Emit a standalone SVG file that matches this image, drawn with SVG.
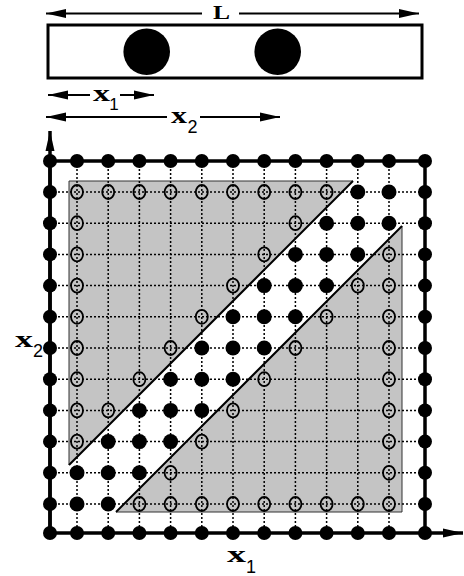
<svg xmlns="http://www.w3.org/2000/svg" width="464" height="576" viewBox="0 0 464 576">
<style>
.mono{font-family:"Liberation Serif","DejaVu Serif",serif;font-weight:bold;fill:#000}
.sub{font-family:"Liberation Sans","DejaVu Sans",sans-serif;fill:#000}
.ln{stroke:#000;stroke-width:2;fill:none}
.dot{fill:#000}
.bd{fill:#000}
.op{fill:none;stroke:#000;stroke-width:1.8}
.grid{stroke:#000;stroke-width:1.5;stroke-dasharray:2 2;fill:none}
.tri{fill:#c4c4c4;stroke:#333;stroke-width:1}
.diag{stroke:#000;stroke-width:2;fill:none}
</style>
<defs>
<marker id="ah" viewBox="0 0 20 10" refX="20" refY="5" markerWidth="20" markerHeight="10" markerUnits="userSpaceOnUse" orient="auto-start-reverse">
<path d="M0,0.5 L20,5 L0,9.5 Z" fill="#000"/>
</marker>
</defs>

<g id="bar">
<rect x="48" y="25" width="374" height="53" fill="#fff" stroke="#000" stroke-width="3"/>
<circle cx="146.7" cy="51.7" r="23.3" fill="#000"/>
<circle cx="277.7" cy="51.7" r="23.3" fill="#000"/>
</g>

<g id="dimensions">
<line class="ln" x1="202" y1="13.5" x2="46" y2="13.5" marker-end="url(#ah)"/>
<line class="ln" x1="239" y1="13.5" x2="419" y2="13.5" marker-end="url(#ah)"/>
<text class="mono" x="213" y="19" font-size="18" textLength="17" lengthAdjust="spacingAndGlyphs">L</text>
<line class="ln" x1="90" y1="95" x2="48" y2="95" marker-end="url(#ah)"/>
<line class="ln" x1="120" y1="95" x2="154" y2="95" marker-end="url(#ah)"/>
<text class="mono" x="93" y="101" font-size="24" textLength="17" lengthAdjust="spacingAndGlyphs">x</text>
<text class="sub" x="114" y="110" font-size="17" text-anchor="middle">1</text>
<line class="ln" x1="167" y1="117" x2="46" y2="117" marker-end="url(#ah)"/>
<line class="ln" x1="200" y1="117" x2="280" y2="117" marker-end="url(#ah)"/>
<text class="mono" x="171" y="123" font-size="24" textLength="16" lengthAdjust="spacingAndGlyphs">x</text>
<text class="sub" x="192.5" y="133" font-size="18" text-anchor="middle">2</text>
</g>

<g id="regions">
<polygon class="tri" points="69,181 353,181 69,465"/>
<polygon class="tri" points="116,512 402,226 402,512"/>
</g>

<g id="grid">
<path class="grid" d="M77,161V533M108.2,161V533M139.4,161V533M170.6,161V533M201.8,161V533M233,161V533M264.2,161V533M295.4,161V533M326.6,161V533M357.8,161V533M389,161V533"/>
<path class="grid" d="M50,504H425M50,472.8H425M50,441.6H425M50,410.4H425M50,379.2H425M50,348H425M50,316.8H425M50,285.6H425M50,254.4H425M50,223.2H425M50,192H425"/>
</g>

<g id="boundaries">
<line class="diag" x1="353" y1="181" x2="69" y2="465"/>
<line class="diag" x1="116" y1="512" x2="402" y2="226"/>
</g>

<g id="axes">
<path d="M50,533V161H425V533" fill="none" stroke="#000" stroke-width="3.5"/>
<line x1="50" y1="533" x2="50" y2="131" stroke="#000" stroke-width="3.5" marker-end="url(#ah)"/>
<line x1="50" y1="533" x2="463" y2="533" stroke="#000" stroke-width="3.5" marker-end="url(#ah)"/>
<text class="mono" x="15" y="347" font-size="24" textLength="18" lengthAdjust="spacingAndGlyphs">x</text>
<text class="sub" x="38" y="357" font-size="18" text-anchor="middle">2</text>
<text class="mono" x="227" y="562" font-size="24" textLength="19" lengthAdjust="spacingAndGlyphs">x</text>
<text class="sub" x="251" y="573" font-size="18" text-anchor="middle">1</text>
</g>

<g id="border-points">
<circle class="bd" cx="50" cy="161" r="7"/><circle class="bd" cx="77" cy="161" r="7"/><circle class="bd" cx="108.2" cy="161" r="7"/><circle class="bd" cx="139.4" cy="161" r="7"/><circle class="bd" cx="170.6" cy="161" r="7"/><circle class="bd" cx="201.8" cy="161" r="7"/><circle class="bd" cx="233" cy="161" r="7"/><circle class="bd" cx="264.2" cy="161" r="7"/><circle class="bd" cx="295.4" cy="161" r="7"/><circle class="bd" cx="326.6" cy="161" r="7"/><circle class="bd" cx="357.8" cy="161" r="7"/><circle class="bd" cx="389" cy="161" r="7"/><circle class="bd" cx="425" cy="161" r="7"/>
<circle class="bd" cx="50" cy="533" r="7"/><circle class="bd" cx="77" cy="533" r="7"/><circle class="bd" cx="108.2" cy="533" r="7"/><circle class="bd" cx="139.4" cy="533" r="7"/><circle class="bd" cx="170.6" cy="533" r="7"/><circle class="bd" cx="201.8" cy="533" r="7"/><circle class="bd" cx="233" cy="533" r="7"/><circle class="bd" cx="264.2" cy="533" r="7"/><circle class="bd" cx="295.4" cy="533" r="7"/><circle class="bd" cx="326.6" cy="533" r="7"/><circle class="bd" cx="357.8" cy="533" r="7"/><circle class="bd" cx="389" cy="533" r="7"/><circle class="bd" cx="425" cy="533" r="7"/>
<circle class="bd" cx="50" cy="504" r="7"/><circle class="bd" cx="50" cy="472.8" r="7"/><circle class="bd" cx="50" cy="441.6" r="7"/><circle class="bd" cx="50" cy="410.4" r="7"/><circle class="bd" cx="50" cy="379.2" r="7"/><circle class="bd" cx="50" cy="348" r="7"/><circle class="bd" cx="50" cy="316.8" r="7"/><circle class="bd" cx="50" cy="285.6" r="7"/><circle class="bd" cx="50" cy="254.4" r="7"/><circle class="bd" cx="50" cy="223.2" r="7"/><circle class="bd" cx="50" cy="192" r="7"/>
<circle class="bd" cx="425" cy="504" r="7"/><circle class="bd" cx="425" cy="472.8" r="7"/><circle class="bd" cx="425" cy="441.6" r="7"/><circle class="bd" cx="425" cy="410.4" r="7"/><circle class="bd" cx="425" cy="379.2" r="7"/><circle class="bd" cx="425" cy="348" r="7"/><circle class="bd" cx="425" cy="316.8" r="7"/><circle class="bd" cx="425" cy="285.6" r="7"/><circle class="bd" cx="425" cy="254.4" r="7"/><circle class="bd" cx="425" cy="223.2" r="7"/><circle class="bd" cx="425" cy="192" r="7"/>
</g>

<g id="band-points">
<circle class="dot" cx="77" cy="504" r="7.5"/><circle class="dot" cx="108.2" cy="472.8" r="7.5"/><circle class="dot" cx="139.4" cy="441.6" r="7.5"/><circle class="dot" cx="170.6" cy="410.4" r="7.5"/><circle class="dot" cx="201.8" cy="379.2" r="7.5"/><circle class="dot" cx="233" cy="348" r="7.5"/><circle class="dot" cx="264.2" cy="316.8" r="7.5"/><circle class="dot" cx="295.4" cy="285.6" r="7.5"/><circle class="dot" cx="326.6" cy="254.4" r="7.5"/><circle class="dot" cx="357.8" cy="223.2" r="7.5"/><circle class="dot" cx="389" cy="192" r="7.5"/>
<circle class="dot" cx="108.2" cy="504" r="7.5"/><circle class="dot" cx="139.4" cy="472.8" r="7.5"/><circle class="dot" cx="170.6" cy="441.6" r="7.5"/><circle class="dot" cx="201.8" cy="410.4" r="7.5"/><circle class="dot" cx="233" cy="379.2" r="7.5"/><circle class="dot" cx="264.2" cy="348" r="7.5"/><circle class="dot" cx="295.4" cy="316.8" r="7.5"/><circle class="dot" cx="326.6" cy="285.6" r="7.5"/><circle class="dot" cx="357.8" cy="254.4" r="7.5"/><circle class="dot" cx="389" cy="223.2" r="7.5"/>
<circle class="dot" cx="77" cy="472.8" r="7.5"/><circle class="dot" cx="108.2" cy="441.6" r="7.5"/><circle class="dot" cx="139.4" cy="410.4" r="7.5"/><circle class="dot" cx="170.6" cy="379.2" r="7.5"/><circle class="dot" cx="201.8" cy="348" r="7.5"/><circle class="dot" cx="233" cy="316.8" r="7.5"/><circle class="dot" cx="264.2" cy="285.6" r="7.5"/><circle class="dot" cx="295.4" cy="254.4" r="7.5"/><circle class="dot" cx="326.6" cy="223.2" r="7.5"/><circle class="dot" cx="357.8" cy="192" r="7.5"/>
</g>

<g id="upper-open-points">
<ellipse class="op" cx="77" cy="441.6" rx="6" ry="7"/><ellipse class="op" cx="77" cy="410.4" rx="6" ry="7"/><ellipse class="op" cx="77" cy="379.2" rx="6" ry="7"/><ellipse class="op" cx="77" cy="348" rx="6" ry="7"/><ellipse class="op" cx="77" cy="316.8" rx="6" ry="7"/><ellipse class="op" cx="77" cy="285.6" rx="6" ry="7"/><ellipse class="op" cx="77" cy="254.4" rx="6" ry="7"/><ellipse class="op" cx="77" cy="223.2" rx="6" ry="7"/><ellipse class="op" cx="77" cy="192" rx="6" ry="7"/>
<ellipse class="op" cx="108.2" cy="192" rx="6" ry="7"/><ellipse class="op" cx="139.4" cy="192" rx="6" ry="7"/><ellipse class="op" cx="170.6" cy="192" rx="6" ry="7"/><ellipse class="op" cx="201.8" cy="192" rx="6" ry="7"/><ellipse class="op" cx="233" cy="192" rx="6" ry="7"/><ellipse class="op" cx="264.2" cy="192" rx="6" ry="7"/><ellipse class="op" cx="295.4" cy="192" rx="6" ry="7"/><ellipse class="op" cx="326.6" cy="192" rx="6" ry="7"/>
<ellipse class="op" cx="108.2" cy="410.4" rx="6" ry="7"/><ellipse class="op" cx="139.4" cy="379.2" rx="6" ry="7"/><ellipse class="op" cx="170.6" cy="348" rx="6" ry="7"/><ellipse class="op" cx="201.8" cy="316.8" rx="6" ry="7"/><ellipse class="op" cx="233" cy="285.6" rx="6" ry="7"/><ellipse class="op" cx="264.2" cy="254.4" rx="6" ry="7"/><ellipse class="op" cx="295.4" cy="223.2" rx="6" ry="7"/>
</g>

<g id="lower-open-points">
<ellipse class="op" cx="389" cy="504" rx="6" ry="7"/><ellipse class="op" cx="389" cy="472.8" rx="6" ry="7"/><ellipse class="op" cx="389" cy="441.6" rx="6" ry="7"/><ellipse class="op" cx="389" cy="410.4" rx="6" ry="7"/><ellipse class="op" cx="389" cy="379.2" rx="6" ry="7"/><ellipse class="op" cx="389" cy="348" rx="6" ry="7"/><ellipse class="op" cx="389" cy="316.8" rx="6" ry="7"/><ellipse class="op" cx="389" cy="285.6" rx="6" ry="7"/><ellipse class="op" cx="389" cy="254.4" rx="6" ry="7"/>
<ellipse class="op" cx="139.4" cy="504" rx="6" ry="7"/><ellipse class="op" cx="170.6" cy="504" rx="6" ry="7"/><ellipse class="op" cx="201.8" cy="504" rx="6" ry="7"/><ellipse class="op" cx="233" cy="504" rx="6" ry="7"/><ellipse class="op" cx="264.2" cy="504" rx="6" ry="7"/><ellipse class="op" cx="295.4" cy="504" rx="6" ry="7"/><ellipse class="op" cx="326.6" cy="504" rx="6" ry="7"/><ellipse class="op" cx="357.8" cy="504" rx="6" ry="7"/>
<ellipse class="op" cx="170.6" cy="472.8" rx="6" ry="7"/><ellipse class="op" cx="201.8" cy="441.6" rx="6" ry="7"/><ellipse class="op" cx="233" cy="410.4" rx="6" ry="7"/><ellipse class="op" cx="264.2" cy="379.2" rx="6" ry="7"/><ellipse class="op" cx="295.4" cy="348" rx="6" ry="7"/><ellipse class="op" cx="326.6" cy="316.8" rx="6" ry="7"/><ellipse class="op" cx="357.8" cy="285.6" rx="6" ry="7"/>
</g>
</svg>
